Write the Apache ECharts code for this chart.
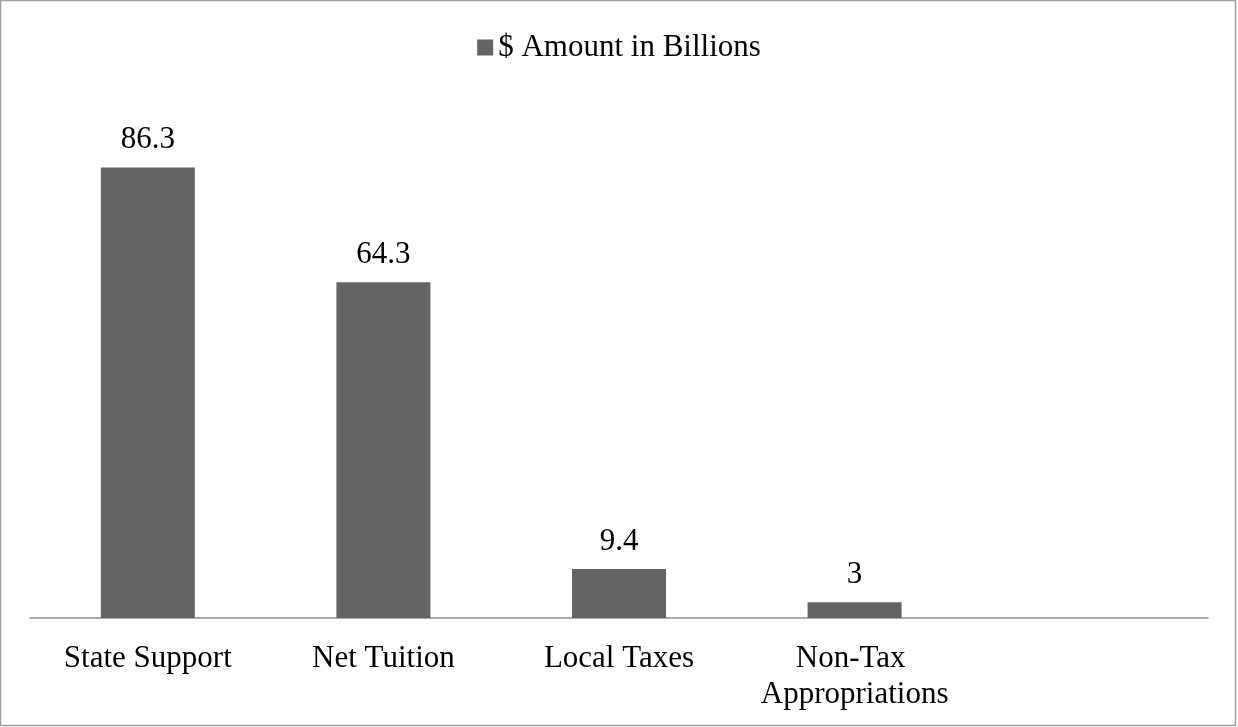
<!DOCTYPE html>
<html>
<head>
<meta charset="utf-8">
<script src="https://cdn.jsdelivr.net/npm/echarts@6/dist/echarts.min.js"></script>
<style>
  html, body { margin: 0; padding: 0; background: #fff; }
  #chart { width: 1238px; height: 727px; }
</style>
</head>
<body>
<div id="chart"></div>
<script>
// revenue sources, last slot left empty like the original
const categories = ['State Support', 'Net Tuition', 'Local Taxes', 'Non-Tax Appropriations', ''];
const amounts = [86.3, 64.3, 9.4, 3, null];
const seriesName = '$ Amount in Billions';

const font = 'Liberation Serif';
const chart = echarts.init(document.getElementById('chart'));

chart.setOption({
  animation: false,
  textStyle: { fontFamily: font },
  graphic: [{
    type: 'rect',
    shape: { x: 0.5, y: 0.5, width: 1235, height: 725 },
    style: { fill: 'none', stroke: '#a0a0a0', lineWidth: 1.5 }
  }],
  legend: {
    data: [seriesName],
    top: 27,
    left: 'center',
    itemWidth: 16,
    itemHeight: 16,
    itemGap: 7,
    icon: 'rect',
    textStyle: { fontFamily: font, fontSize: 31, color: '#000' }
  },
  grid: {
    left: 30,
    right: 30,
    top: 96,
    bottom: 109,
    containLabel: false
  },
  xAxis: {
    type: 'category',
    data: categories,
    axisLine: { lineStyle: { color: '#8c8c8c', width: 1.5 } },
    axisTick: { show: false },
    axisLabel: {
      interval: 0,
      margin: 23,
      fontFamily: font,
      fontSize: 31,
      color: '#000',
      lineHeight: 36,
      width: 225,
      overflow: 'break'
    }
  },
  yAxis: {
    type: 'value',
    min: 0,
    max: 100,
    show: false
  },
  series: [{
    name: seriesName,
    type: 'bar',
    data: amounts,
    barWidth: 94,
    itemStyle: { color: '#646464' },
    label: {
      show: true,
      position: 'top',
      distance: 12,
      fontFamily: font,
      fontSize: 31,
      color: '#000'
    }
  }]
});
</script>
</body>
</html>
